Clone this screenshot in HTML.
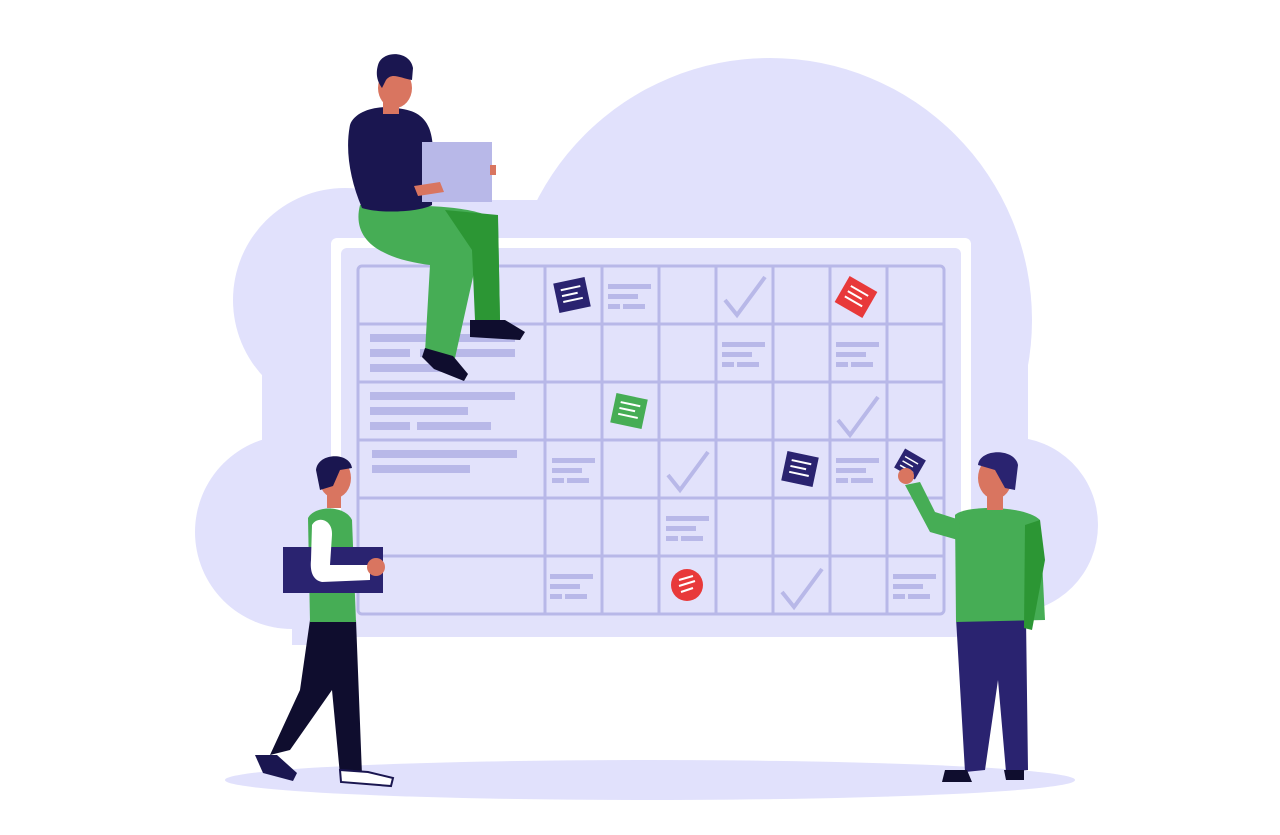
<!DOCTYPE html>
<html><head><meta charset="utf-8"><style>html,body{margin:0;padding:0;background:#fff;}svg{display:block}</style></head>
<body>
<svg width="1280" height="835" viewBox="0 0 1280 835" xmlns="http://www.w3.org/2000/svg">
<g fill="#e1e1fc">
<circle cx="770" cy="320" r="262"/>
<circle cx="345" cy="300" r="112"/>
<circle cx="292" cy="532" r="97"/>
<circle cx="1010" cy="525" r="88"/>
<rect x="262" y="330" width="766" height="290"/>
<rect x="292" y="600" width="720" height="45"/>
<rect x="330" y="200" width="220" height="140"/>
<ellipse cx="650" cy="780" rx="425" ry="20"/>
</g>
<rect x="331" y="238" width="640" height="409" rx="6" fill="#fff"/>
<rect x="341" y="248" width="620" height="389" rx="6" fill="#e2e2fb"/>
<g stroke="#b8b8e8" stroke-width="3" fill="none">
<rect x="358" y="266" width="586" height="348" rx="4"/>
<path d="M545 266V614M602 266V614M659 266V614M716 266V614M773 266V614M830 266V614M887 266V614"/>
<path d="M358 324H944M358 382H944M358 440H944M358 498H944M358 556H944"/>
<path d="M725 300l12 15 28-38M838 420l12 15 28-38M668 475l12 15 28-38M782 592l12 15 28-38" stroke-width="4"/>
</g>
<g fill="#b8b8e8">
<rect x="370" y="334" width="145" height="8"/><rect x="370" y="349" width="40" height="8"/><rect x="420" y="349" width="95" height="8"/><rect x="370" y="364" width="80" height="8"/>
<rect x="370" y="392" width="145" height="8"/><rect x="370" y="407" width="98" height="8"/><rect x="370" y="422" width="40" height="8"/><rect x="417" y="422" width="74" height="8"/>
<rect x="372" y="450" width="145" height="8"/><rect x="372" y="465" width="98" height="8"/>
<g id="m"><rect x="608" y="284" width="43" height="5"/><rect x="608" y="294" width="30" height="5"/><rect x="608" y="304" width="12" height="5"/><rect x="623" y="304" width="22" height="5"/></g>
<use href="#m" x="114" y="58"/><use href="#m" x="228" y="58"/><use href="#m" x="-56" y="174"/><use href="#m" x="228" y="174"/>
<use href="#m" x="58" y="232"/><use href="#m" x="-58" y="290"/><use href="#m" x="285" y="290"/>
</g>
<g>
<g transform="rotate(-12 572 295)"><rect x="556" y="280" width="32" height="30" fill="#2a2370"/><path d="M562 288h20M562 294h16M562 300h20" stroke="#fff" stroke-width="2"/></g>
<g transform="rotate(30 856 297)"><rect x="840" y="282" width="32" height="30" fill="#e8393a"/><path d="M846 290h20M846 296h16M846 302h20" stroke="#fff" stroke-width="2"/></g>
<g transform="rotate(12 629 411)"><rect x="613" y="396" width="32" height="30" fill="#46ad55"/><path d="M619 404h20M619 410h16M619 416h20" stroke="#fff" stroke-width="2"/></g>
<g transform="rotate(12 800 469)"><rect x="784" y="454" width="32" height="30" fill="#2a2370"/><path d="M790 462h20M790 468h16M790 474h20" stroke="#fff" stroke-width="2"/></g>
<g transform="rotate(30 910 464)"><rect x="898" y="453" width="24" height="22" fill="#2a2370"/><path d="M902 460h15M902 465h12M902 470h15" stroke="#fff" stroke-width="1.5"/></g>
<circle cx="687" cy="585" r="16" fill="#e8393a"/>
<path d="M679 580l14 -4M679 586l16 -5M681 592l12 -4" stroke="#fff" stroke-width="2"/>
</g>
<!-- seated man -->
<g>
<path d="M360 205 C350 245 390 260 430 265 L425 352 L455 358 L475 268 L475 320 L500 320 L498 222 C480 205 420 205 360 205Z" fill="#46ad55"/>
<path d="M445 210 L498 215 L500 320 L475 320 L472 250Z" fill="#2c9634"/>
<path d="M350 125 C355 110 380 105 395 108 C420 110 432 120 433 150 L432 205 C420 212 380 214 362 208 C350 180 345 150 350 125Z" fill="#1a1650"/>
<rect x="383" y="98" width="16" height="16" fill="#d97560"/>
<ellipse cx="395" cy="88" rx="17" ry="20" fill="#d97560"/>
<path d="M378 65 C382 50 410 50 413 68 L412 80 C400 78 392 72 386 80 L382 88 C376 80 376 72 378 65Z" fill="#1a1650"/>
<rect x="422" y="142" width="70" height="60" fill="#b8b8e8"/>
<path d="M414 186 l26 -4 l4 10 l-26 4Z" fill="#d97560"/>
<rect x="490" y="165" width="6" height="10" fill="#d97560"/>
<path d="M470 320 l35 0 l20 12 l-5 8 l-50 -3Z" fill="#0f0d2e"/>
<path d="M425 348 l28 8 l15 18 l-4 7 l-30 -12 l-12 -12Z" fill="#0f0d2e"/>
</g>
<!-- left walking man -->
<g>
<path d="M310 620 L356 620 L362 775 L340 775 L332 690 L290 750 L270 755 L300 690Z" fill="#0f0d2e"/>
<path d="M308 518 C315 505 345 505 352 520 L356 622 L310 622Z" fill="#46ad55"/>
<rect x="283" y="547" width="100" height="46" fill="#2a2370"/>
<path d="M312 525 C318 515 333 520 332 535 L330 565 L370 565 L370 580 L322 582 C312 580 310 570 311 560Z" fill="#fff"/>
<circle cx="376" cy="567" r="9" fill="#d97560"/>
<ellipse cx="335" cy="478" rx="16" ry="20" fill="#d97560"/>
<rect x="327" y="490" width="14" height="18" fill="#d97560"/>
<path d="M316 470 C318 452 350 452 352 468 L340 470 L333 486 L320 490Z" fill="#1a1650"/>
<path d="M255 755 l22 0 l20 18 l-4 8 l-30 -8Z" fill="#1a1650"/>
<path d="M340 770 l28 2 l25 6 l-2 8 l-50 -4Z" fill="#fff" stroke="#1a1650" stroke-width="2"/>
</g>
<!-- right standing man -->
<g>
<path d="M956 618 L1026 618 L1028 770 L1006 772 L998 680 L985 770 L965 772Z" fill="#2a2370"/>
<path d="M955 515 C965 505 1025 505 1040 520 L1045 620 L956 622Z" fill="#46ad55"/>
<path d="M905 485 L920 482 L935 512 L960 520 L958 540 L930 532 Z" fill="#46ad55"/>
<path d="M1025 525 L1040 520 L1045 560 L1032 630 L1024 628Z" fill="#2c9634"/>
<ellipse cx="995" cy="478" rx="17" ry="21" fill="#d97560"/>
<rect x="987" y="490" width="16" height="20" fill="#d97560"/>
<path d="M978 465 C980 448 1015 448 1018 465 L1015 490 L1005 488 L995 470 Z" fill="#2a2370"/>
<circle cx="906" cy="476" r="8" fill="#d97560"/>
<path d="M945 770 l22 0 l5 12 l-30 0Z M1004 770 l20 0 l0 10 l-18 0Z" fill="#0f0d2e"/>
</g>
</svg>
</body></html>
